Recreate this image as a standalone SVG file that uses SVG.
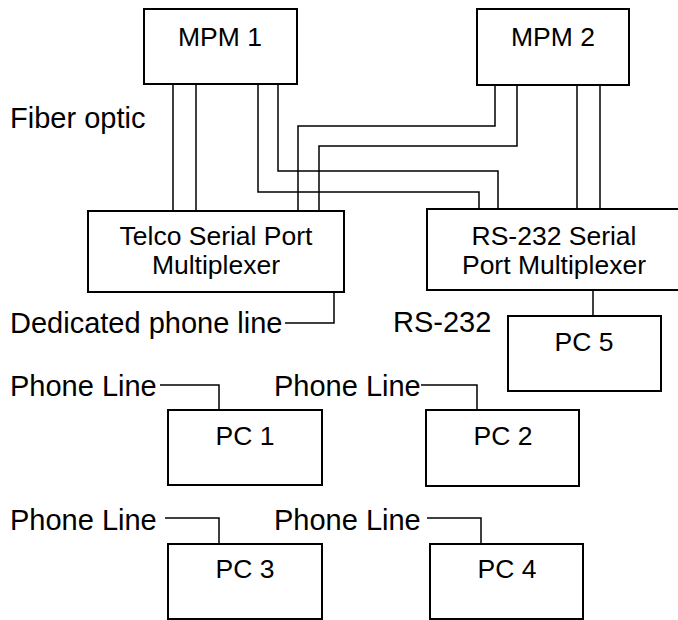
<svg xmlns="http://www.w3.org/2000/svg" width="678" height="620" viewBox="0 0 678 620">
<style>
.box{fill:#fff;stroke:#000;stroke-width:2}
.ln{fill:none;stroke:#000;stroke-width:1.5}
text{font-family:"Liberation Sans",Arial,sans-serif;font-size:29px;fill:#000}
.c{text-anchor:middle;font-size:26.5px}
</style>
<rect width="678" height="620" fill="#fff"/>
<g id="connectors">
<path class="ln" d="M173 84V211M196 84V211"/>
<path class="ln" d="M258 84V192H479V209"/>
<path class="ln" d="M278 84V171H498V209"/>
<path class="ln" d="M495 85V126H298V211"/>
<path class="ln" d="M517 85V146H319V211"/>
<path class="ln" d="M577 85V209M600 85V209"/>
<path class="ln" d="M285 323H334V292"/>
<path class="ln" d="M593 290V316"/>
<path class="ln" d="M160 385H219V410"/>
<path class="ln" d="M421 385H477V410"/>
<path class="ln" d="M165 518H219V544"/>
<path class="ln" d="M427 518H481V544"/>
</g>
<g id="mpm1"><rect class="box" x="144" y="9" width="153" height="75"/><text class="c" x="220" y="46">MPM 1</text></g>
<g id="mpm2"><rect class="box" x="477" y="9" width="152" height="76"/><text class="c" x="553" y="46">MPM 2</text></g>
<g id="telco"><rect class="box" x="88" y="211" width="256" height="81"/><text class="c" x="216" y="245">Telco Serial Port</text><text class="c" x="216" y="274">Multiplexer</text></g>
<g id="rs232mux"><rect class="box" x="427" y="209" width="270" height="81"/><text class="c" x="554" y="245">RS-232 Serial</text><text class="c" x="554" y="274">Port Multiplexer</text></g>
<g id="pc5"><rect class="box" x="508" y="316" width="153" height="75"/><text class="c" x="584" y="351">PC 5</text></g>
<g id="pc1"><rect class="box" x="168" y="410" width="154" height="75"/><text class="c" x="245" y="445">PC 1</text></g>
<g id="pc2"><rect class="box" x="426" y="410" width="153" height="76"/><text class="c" x="503" y="445">PC 2</text></g>
<g id="pc3"><rect class="box" x="168" y="544" width="154" height="75"/><text class="c" x="245" y="578">PC 3</text></g>
<g id="pc4"><rect class="box" x="430" y="544" width="153" height="75"/><text class="c" x="507" y="578">PC 4</text></g>
<g id="labels">
<text x="10" y="128">Fiber optic</text>
<text x="10" y="333">Dedicated phone line</text>
<text x="393" y="332">RS-232</text>
<text x="10" y="396">Phone Line</text>
<text x="274" y="396">Phone Line</text>
<text x="10" y="530">Phone Line</text>
<text x="274" y="530">Phone Line</text>
</g>
</svg>
